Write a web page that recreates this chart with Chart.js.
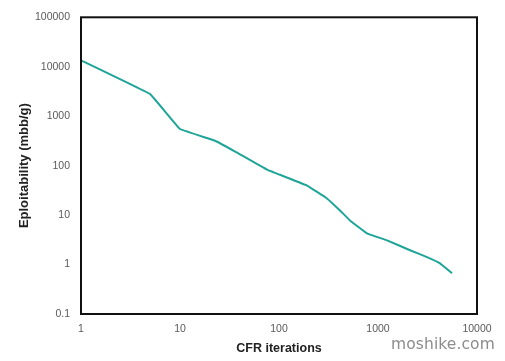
<!DOCTYPE html>
<html>
<head>
<meta charset="utf-8">
<script src="https://cdn.jsdelivr.net/npm/chart.js@4/dist/chart.umd.min.js"></script>
<style>
html,body{margin:0;padding:0;background:#fff;}
#wrap{position:relative;width:505px;height:361px;}
#wm{position:absolute;left:391px;top:335px;font-family:"DejaVu Sans",sans-serif;font-size:15.5px;color:#8c8c8c;letter-spacing:0.1px;}
</style>
</head>
<body>
<div id="wrap">
<canvas id="c" width="505" height="361"></canvas>
<div id="wm">moshike.com</div>
</div>
<script>
const iterations = [1, 5, 10, 22.6, 37.7, 75.7, 192, 305, 413, 521, 774, 1233, 2105, 3126, 4227, 5590];
const exploitability = [13500, 2800, 550, 319, 183, 83, 39.6, 21.7, 12.4, 7.8, 4.28, 3.09, 1.95, 1.41, 1.06, 0.67];
const xTickValues = [1, 10, 100, 1000, 10000];
const yTickValues = [0.1, 1, 10, 100, 1000, 10000, 100000];
const xTitle = 'CFR iterations';
const yTitle = 'Eploitability (mbb/g)';

const frame = {
  id: 'frame',
  afterDatasetsDraw(chart) {
    const a = chart.chartArea, ctx = chart.ctx;
    ctx.save();
    ctx.strokeStyle = '#111';
    ctx.lineWidth = 2;
    ctx.strokeRect(a.left, a.top, a.right - a.left, a.bottom - a.top);
    ctx.restore();
  }
};

new Chart(document.getElementById('c'), {
  type: 'line',
  data: {
    datasets: [{
      data: iterations.map((x, i) => ({x: x, y: exploitability[i]})),
      borderColor: '#1fa597',
      borderWidth: 2,
      pointRadius: 0,
      tension: 0.05,
      fill: false
    }]
  },
  options: {
    responsive: false,
    animation: false,
    events: [],
    layout: {padding: {left: 17, top: 16, right: 28, bottom: 5}},
    plugins: {legend: {display: false}, tooltip: {enabled: false}},
    scales: {
      x: {
        type: 'logarithmic',
        min: 1, max: 10000,
        grid: {display: false, drawTicks: false},
        border: {display: false},
        afterBuildTicks(s) { s.ticks = xTickValues.map(v => ({value: v})); },
        afterFit(s) { s.height = 42; },
        ticks: {
          padding: 9,
          color: '#5a5a5a',
          font: {family: '"Liberation Sans", sans-serif', size: 10.5},
          maxRotation: 0,
          autoSkip: false,
          callback: v => String(v)
        },
        title: {
          display: true,
          text: xTitle,
          color: '#222',
          padding: {top: 0, bottom: 0},
          font: {family: '"Liberation Sans Narrow", "Liberation Sans", sans-serif', size: 12.5, weight: 'bold'}
        }
      },
      y: {
        type: 'logarithmic',
        min: 0.1, max: 100000,
        grid: {display: false, drawTicks: false},
        border: {display: false},
        afterBuildTicks(s) { s.ticks = yTickValues.map(v => ({value: v})); },
        afterFit(s) { s.width = 64; },
        ticks: {
          padding: 11,
          color: '#5a5a5a',
          font: {family: '"Liberation Sans", sans-serif', size: 10.5},
          autoSkip: false,
          callback: v => String(v)
        },
        title: {
          display: true,
          text: yTitle,
          color: '#222',
          padding: {top: 0, bottom: 0},
          font: {family: '"Liberation Sans Narrow", "Liberation Sans", sans-serif', size: 13, weight: 'bold'}
        }
      }
    }
  },
  plugins: [frame]
});
</script>
</body>
</html>
